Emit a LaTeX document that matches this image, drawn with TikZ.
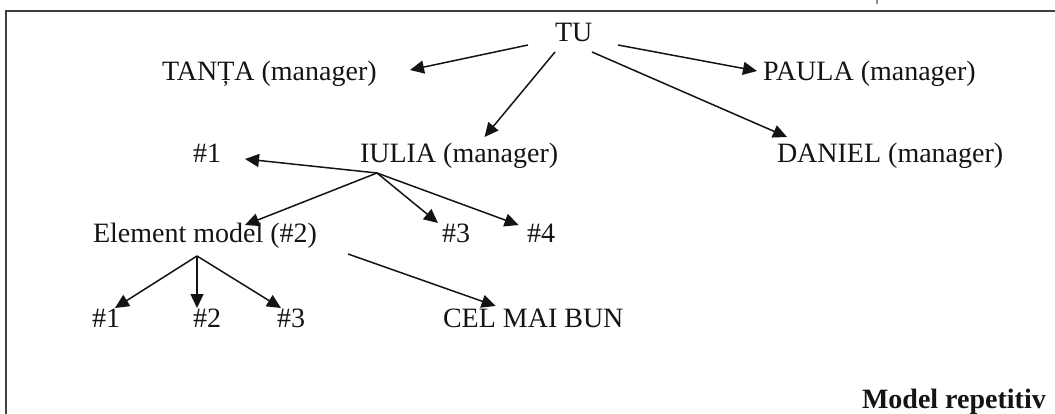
\documentclass[tikz,border=0pt]{standalone}
\usepackage{fontspec}
\setmainfont{Liberation Serif}
\usetikzlibrary{arrows.meta}

\tikzset{
  label text/.style={anchor=base west, inner sep=0pt, outer sep=0pt,
    font=\fontsize{28}{34}\selectfont, text=black!92},
  title text/.style={label text, font=\fontsize{28}{34}\selectfont\bfseries},
  arr/.style={line width=1.5pt, draw=black!92,
    -{Triangle[length=14pt,width=13pt]}},
  frame/.style={line width=1.8pt, draw=black!75}
}

\begin{document}
\begin{tikzpicture}[x=1pt,y=-1pt]
  \useasboundingbox (0,0) rectangle (1055,414);
  \fill[white] (0,0) rectangle (1055,414);

  % page frame (open to the right and bottom)
  \draw[frame] (1056,11) -- (6,11) -- (6,415);
  \draw[line width=1.2pt, draw=black!45] (877,0) -- (877,4);

  % top level
  \node[label text] (tu)     at (555,42)  {TU};
  \node[label text] (tanta)  at (162,81)  {TANȚA (manager)};
  \node[label text] (paula)  at (763,81)  {PAULA (manager)};
  \node[label text] (iulia)  at (360,163) {IULIA (manager)};
  \node[label text] (daniel) at (777,163) {DANIEL (manager)};

  % IULIA's team
  \node[label text] (ihash1) at (193,163) {\#1};
  \node[label text] (elem)   at (93,243)  {Element model (\#2)};
  \node[label text] (ihash3) at (442,243) {\#3};
  \node[label text] (ihash4) at (527,243) {\#4};

  % model element's team
  \node[label text] (ehash1) at (92,327)  {\#1};
  \node[label text] (ehash2) at (193,327) {\#2};
  \node[label text] (ehash3) at (277,327) {\#3};
  \node[label text] (best)   at (443,327) {CEL MAI BUN};

  \node[title text] (title)  at (862,408) {Model repetitiv};

  % fork points
  \coordinate (iuliaFork) at ([shift={(17,10)}]iulia.base west);
  \coordinate (elemFork)  at ([shift={(104,13)}]elem.base west);

  % TU -> managers
  \draw[arr] ([shift={(-27,3)}]tu.base west) -- ([shift={(248,-11)}]tanta.base west);
  \draw[arr] ([shift={(63,3)}]tu.base west)  -- ([shift={(-6,-10)}]paula.base west);
  \draw[arr] ([shift={(0,10)}]tu.base west)  -- ([shift={(124.5,-26)}]iulia.base west);
  \draw[arr] ([shift={(37,10)}]tu.base west) -- ([shift={(10,-26)}]daniel.base west);

  % IULIA -> team
  \draw[arr] (iuliaFork) -- ([shift={(52,-4)}]ihash1.base west);
  \draw[arr] (iuliaFork) -- ([shift={(152,-18)}]elem.base west);
  \draw[arr] (iuliaFork) -- ([shift={(-4,-20)}]ihash3.base west);
  \draw[arr] (iuliaFork) -- ([shift={(-8.4,-18)}]ihash4.base west);

  % Element model -> team
  \draw[arr] (elemFork) -- ([shift={(23,-19)}]ehash1.base west);
  \draw[arr] (elemFork) -- ([shift={(4,-19)}]ehash2.base west);
  \draw[arr] (elemFork) -- ([shift={(4,-19)}]ehash3.base west);
  \draw[arr] ([shift={(255,11)}]elem.base west) -- ([shift={(52.6,-21)}]best.base west);
\end{tikzpicture}
\end{document}
